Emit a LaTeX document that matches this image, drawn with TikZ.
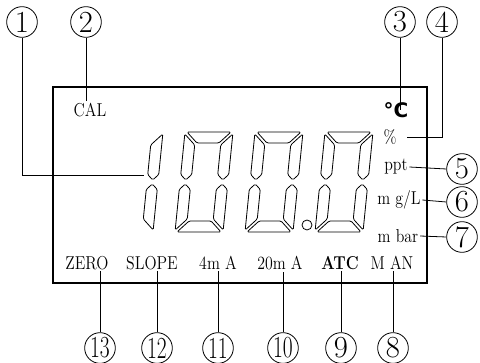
\documentclass[tikz,border=0pt]{standalone}
\usepackage{fontspec}
\usepackage{graphicx}
\newfontfamily\symfont{DejaVu Sans}
\newfontfamily\lblfont{Latin Modern Roman}[FakeStretch=0.85]

\begin{document}
\begin{tikzpicture}[x=0.75pt,y=-0.75pt,line width=0.6pt,
		num/.style={circle,draw,minimum size=23pt,inner sep=0pt,font=\fontsize{23}{25}\selectfont},
		lbl/.style={inner sep=1pt,font=\lblfont\fontsize{14}{16}\selectfont},
		seg/.style={draw,rounded corners=1pt,line join=round}]
		\useasboundingbox (0,0) rectangle (480,363);
		\draw[line width=0.8pt] (53,87) rectangle (427,283);
		% leading 1
		\begin{scope}[shift={(105,232)},x=0.75pt,y=0.75pt,xslant=0.1]
			\draw[seg] (48,98) -- (37,87) -- (37,57.5) -- (42.5,52) -- (48,57.5) -- cycle;
			\draw[seg] (48,2) -- (37,13) -- (37,42.5) -- (42.5,48) -- (48,42.5) -- cycle;
		\end{scope}
		% zeros
		\foreach \dx in {175,245,315}{
			\begin{scope}[shift={(\dx,232)},x=0.75pt,y=0.75pt,xslant=0.1]
				\draw[seg] (2,100) -- (46,100) -- (35,89) -- (13,89) -- cycle;
				\draw[seg] (2,0) -- (46,0) -- (35,11) -- (13,11) -- cycle;
				\draw[seg] (0,98) -- (11,87) -- (11,57.5) -- (5.5,52) -- (0,57.5) -- cycle;
				\draw[seg] (0,2) -- (11,13) -- (11,42.5) -- (5.5,48) -- (0,42.5) -- cycle;
				\draw[seg] (48,98) -- (37,87) -- (37,57.5) -- (42.5,52) -- (48,57.5) -- cycle;
				\draw[seg] (48,2) -- (37,13) -- (37,42.5) -- (42.5,48) -- (48,42.5) -- cycle;
			\end{scope}
		}
		\draw (307,225) circle [radius=5];
		% labels
		\node[lbl] (cal) at (90,110) {CAL};
		\node[lbl,font=\symfont\bfseries\fontsize{15}{17}\selectfont] (degc) at (396,110) {°C};
		\node[lbl] (pct) at (390,137) {\%};
		\node[lbl] (ppt) at (396,167) {ppt};
		\node[lbl] (mgl) at (399,200) {m g/L};
		\node[lbl] (mbar) at (398,236) {m bar};
		\node[lbl] (zero) at (87,263) {ZERO};
		\node[lbl] (slope) at (152,263) {SLOPE};
		\node[lbl] (fma) at (218,263) {4m A};
		\node[lbl] (tma) at (280,263) {20m A};
		\node[lbl,font=\lblfont\bfseries\fontsize{14}{16}\selectfont] (atc) at (340,263) {ATC};
		\node[lbl] (man) at (392,263) {M AN};
		% numbers
		\node[num] (c1) at (22,22) {1};
		\node[num] (c2) at (86,22) {2};
		\node[num] (c3) at (400,22) {3};
		\node[num] (c4) at (442,22) {4};
		\node[num] (c5) at (462,169) {5};
		\node[num] (c6) at (462,202) {6};
		\node[num] (c7) at (462,237) {7};
		\node[num] (c8) at (393,348) {8};
		\node[num] (c9) at (341,348) {9};
		\node[num] (c10) at (283,348) {\scalebox{0.7}[1]{10}};
		\node[num] (c11) at (218,348) {\scalebox{0.7}[1]{11}};
		\node[num] (c12) at (157,348) {\scalebox{0.7}[1]{12}};
		\node[num] (c13) at (100,348) {\scalebox{0.7}[1]{13}};
		% connectors
		\coordinate (p1) at (144,175);
		\coordinate (p4) at (407,137);
		\draw (c1.south) |- (p1);
		\draw (c2.south) -- (c2 |- cal.north);
		\draw (c3.south) -- (c3 |- degc.center);
		\draw (c4.south) |- (p4);
		\draw (ppt.east) -- (c5.west);
		\draw (mgl.east) -- (c6.west);
		\draw (mbar.east) -- (c7.west);
		\draw (c8.north) -- (c8 |- man.south);
		\draw (c9.north) -- (c9 |- atc.south);
		\draw (c10.north) -- (c10 |- tma.south);
		\draw (c11.north) -- (c11 |- fma.south);
		\draw (c12.north) -- (c12 |- slope.south);
		\draw (c13.north) -- (c13 |- zero.south);
	\end{tikzpicture}
\end{document}
